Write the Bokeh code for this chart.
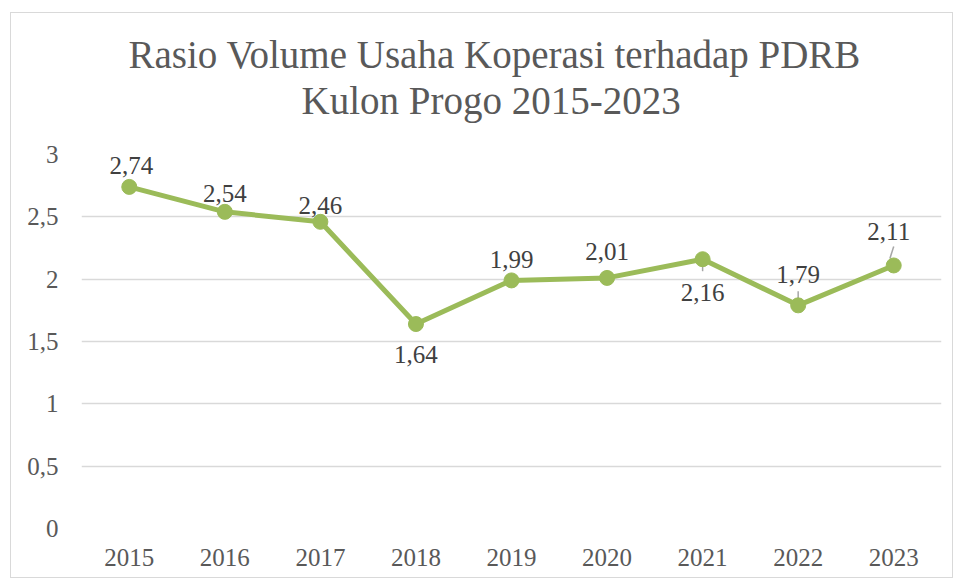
from bokeh.plotting import figure
from bokeh.models import Range1d, FixedTicker, Title, ColumnDataSource
from bokeh.core.properties import value
from bokeh.embed import file_html
from bokeh.resources import INLINE

years = ["2015", "2016", "2017", "2018", "2019", "2020", "2021", "2022", "2023"]
ratios = [2.74, 2.54, 2.46, 1.64, 1.99, 2.01, 2.16, 1.79, 2.11]
labels = ["2,74", "2,54", "2,46", "1,64", "1,99", "2,01", "2,16", "1,79", "2,11"]
y_ticks = [0, 0.5, 1, 1.5, 2, 2.5, 3]
y_tick_labels = ["0", "0,5", "1", "1,5", "2", "2,5", "3"]
title_lines = ["Rasio Volume Usaha Koperasi terhadap PDRB", "Kulon Progo 2015-2023"]

# label placement (screen pixels, positive = down)
label_dx = [2, 0, 0, 0, 0, 0, 0, 0, -5]
label_dy = [-21, -18, -16, 30, -21, -26, 33, -31, -34]

FONT = "Liberation Serif"
xs = list(range(len(years)))

p = figure(width=943, height=566, output_backend="svg", toolbar_location=None,
           x_range=Range1d(-0.5, 8.5), y_range=Range1d(0, 3),
           min_border_left=70, min_border_right=13, min_border_top=141, min_border_bottom=51)
p.margin = (12, 0, 0, 10)
p.styles = {"border": "1.5px solid #d9d9d9", "box-sizing": "border-box"}
p.outline_line_color = None
p.background_fill_color = "white"

p.xgrid.visible = False
p.ygrid.grid_line_color = "#d9d9d9"
p.ygrid.grid_line_width = 1.5
p.ygrid.ticker = FixedTicker(ticks=y_ticks)

p.yaxis.ticker = FixedTicker(ticks=y_ticks)
p.yaxis.major_label_overrides = {t: l for t, l in zip(y_ticks, y_tick_labels)}
p.xaxis.ticker = FixedTicker(ticks=xs)
p.xaxis.major_label_overrides = {i: y for i, y in zip(xs, years)}
for ax in (p.xaxis, p.yaxis):
    ax.axis_line_color = None
    ax.major_tick_line_color = None
    ax.minor_tick_line_color = None
    ax.major_label_text_font = FONT
    ax.major_label_text_font_size = "25px"
    ax.major_label_text_color = "#595959"
p.yaxis.major_label_standoff = 17
p.xaxis.major_label_standoff = 14

src = ColumnDataSource(dict(x=xs, y=ratios, label=labels, dx=label_dx, dy=label_dy))

# leader lines for displaced labels (pixel lengths converted via scale)
px = 3 / 374.0
lead_x0 = [xs[6], xs[7], xs[8] - 0.04]
lead_x1 = [xs[6], xs[7], xs[8]]
lead_y0 = [ratios[6], ratios[7] + 4 * px, ratios[8] + 7 * px]
lead_y1 = [ratios[6] - 12 * px, ratios[7] + 14 * px, ratios[8] + 19 * px]
p.segment(lead_x0, lead_y0, lead_x1, lead_y1, line_color="#a6a6a6", line_width=1.5)

p.line("x", "y", source=src, line_color="#9bbb59", line_width=5, line_join="round")
p.scatter("x", "y", source=src, size=15, fill_color="#9bbb59", line_color="#9bbb59")

p.text("x", "y", text="label", source=src, x_offset="dx", y_offset="dy",
       text_font=value(FONT), text_font_size="25px", text_color="#404040",
       text_align="center", text_baseline="middle")

# title: second line added first (closest to the frame)
t2 = Title(text=title_lines[1], align="left", offset=220, standoff=65,
           text_font=FONT, text_font_size="39px", text_color="#595959",
           text_font_style="normal")
t1 = Title(text=title_lines[0], align="left", offset=47, standoff=-63,
           text_font=FONT, text_font_size="39px", text_color="#595959",
           text_font_style="normal")
p.add_layout(t2, "above")
p.add_layout(t1, "above")

open("out.html", "w").write(file_html(p, INLINE))
